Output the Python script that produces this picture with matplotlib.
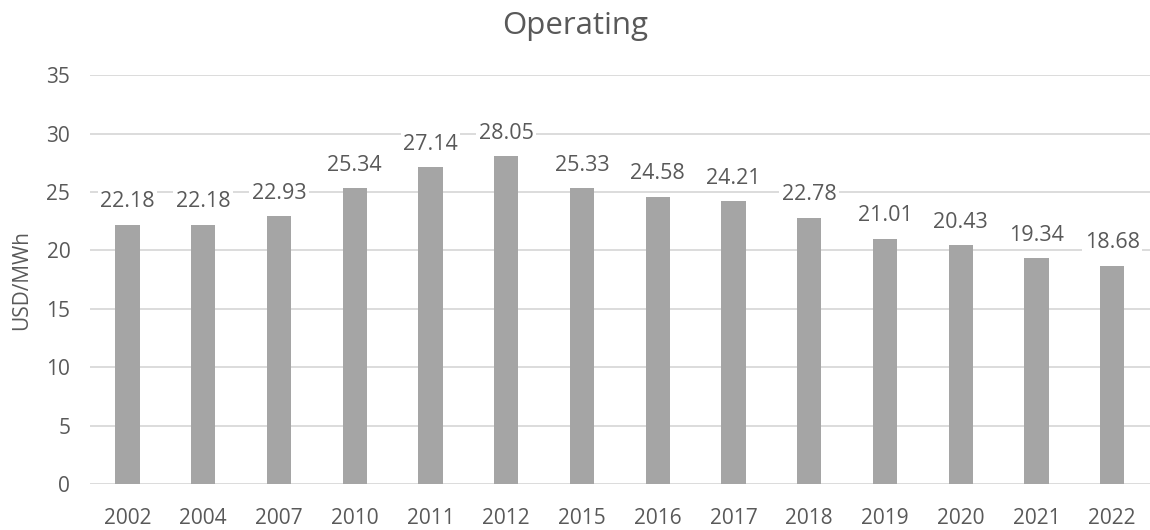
import matplotlib.pyplot as plt
import numpy as np

years = ['2002', '2004', '2007', '2010', '2011', '2012', '2015',
         '2016', '2017', '2018', '2019', '2020', '2021', '2022']
operating = [22.18, 22.18, 22.93, 25.34, 27.14, 28.05, 25.33,
             24.58, 24.21, 22.78, 21.01, 20.43, 19.34, 18.68]

text_color = '#595959'
plt.rcParams['font.family'] = ['Open Sans', 'DejaVu Sans']

fig = plt.figure(figsize=(11.5, 5.3), dpi=100)
ax = fig.add_axes([0.078, 0.087, 0.922, 0.771])

x = np.arange(len(years))
bars = ax.bar(x, operating, width=0.32, color='#a5a5a5', zorder=2)

# value labels on white boxes so they cut through the gridlines
for xi, v in zip(x, operating):
    ax.annotate(f'{v:.2f}', (xi, v), xytext=(0, 9), textcoords='offset points',
                ha='center', va='bottom', fontsize=15.5, color=text_color, zorder=3,
                bbox=dict(boxstyle='square,pad=0.12', fc='white', ec='none'))

ax.set_xlim(-0.5, len(years) - 0.5)
ax.set_ylim(0, 35)
ax.set_yticks(range(0, 36, 5))
ax.set_xticks(x)
ax.set_xticklabels(years)
ax.grid(axis='y', color='#d9d9d9', linewidth=1.3, zorder=0)
ax.set_axisbelow(True)
for s in ax.spines.values():
    s.set_visible(False)
ax.tick_params(length=0, labelsize=15, labelcolor=text_color)
ax.tick_params(axis='x', pad=17)
ax.tick_params(axis='y', pad=14)
ax.set_ylabel('USD/MWh', fontsize=15, color=text_color, labelpad=10)
fig.suptitle('Operating', fontsize=22.5, color=text_color, x=0.5, y=0.98, va='top')

fig.savefig('out.png', dpi=100)
